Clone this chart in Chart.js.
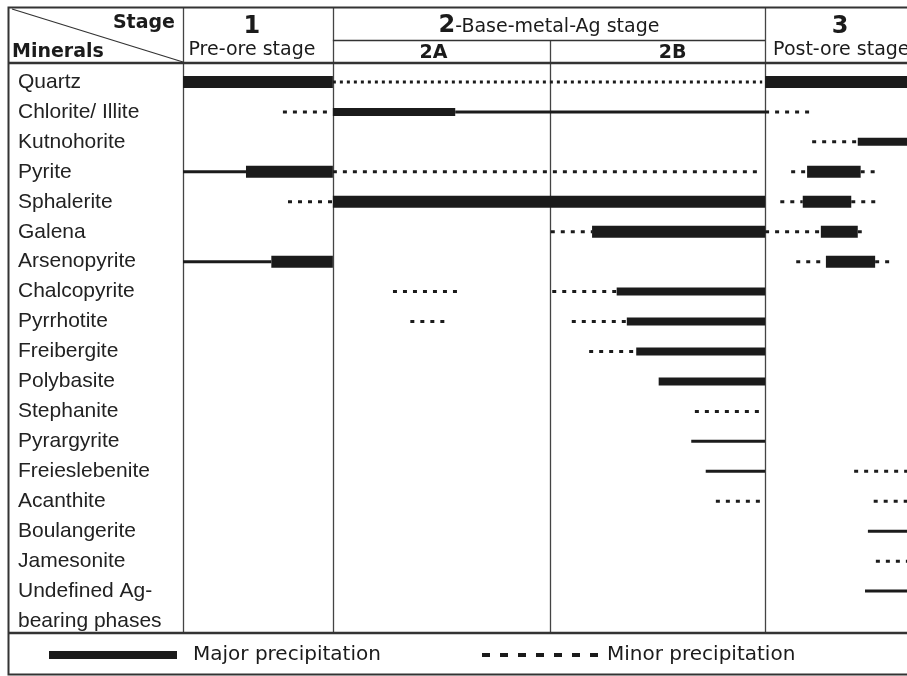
<!DOCTYPE html>
<html>
<head>
<meta charset="utf-8">
<script src="https://cdn.jsdelivr.net/npm/chart.js@4.4.0/dist/chart.umd.min.js"></script>
<style>
  html, body { margin: 0; padding: 0; background: #fff; }
  #wrap { width: 907px; height: 676px; }
</style>
</head>
<body>
<div id="wrap"><canvas id="chart"></canvas></div>
<script>
const minerals = ['Quartz', 'Chlorite/ Illite', 'Kutnohorite', 'Pyrite', 'Sphalerite', 'Galena',
  'Arsenopyrite', 'Chalcopyrite', 'Pyrrhotite', 'Freibergite', 'Polybasite', 'Stephanite',
  'Pyrargyrite', 'Freieslebenite', 'Acanthite', 'Boulangerite', 'Jamesonite',
  'Undefined Ag-bearing phases'];
// last name is written on two lines
const rowLabels = [...minerals.slice(0, -1), 'Undefined Ag-', 'bearing phases'];

// relative time, 0-100 across the visible part of the table
const stageBounds = [20.7, 50.7, 80.4]; // 1|2, 2A|2B, 2|3

const majorBars = [
  ['Quartz', 0, 20.7], ['Quartz', 80.4, 100],
  ['Pyrite', 8.7, 20.7], ['Pyrite', 86.2, 93.6],
  ['Sphalerite', 20.7, 80.4], ['Sphalerite', 85.6, 92.3],
  ['Galena', 56.5, 80.4], ['Galena', 88.1, 93.2],
  ['Arsenopyrite', 12.2, 20.7], ['Arsenopyrite', 88.8, 95.6]
];
const mediumBars = [
  ['Chlorite/ Illite', 20.7, 37.6],
  ['Kutnohorite', 93.2, 100],
  ['Chalcopyrite', 59.9, 80.4],
  ['Pyrrhotite', 61.3, 80.4],
  ['Freibergite', 62.6, 80.4],
  ['Polybasite', 65.7, 80.4]
];
const weakLines = [
  ['Chlorite/ Illite', 37.6, 80.4],
  ['Pyrite', 0, 8.7],
  ['Arsenopyrite', 0, 12.2],
  ['Pyrargyrite', 70.2, 80.4],
  ['Freieslebenite', 72.2, 80.4],
  ['Boulangerite', 94.6, 100],
  ['Undefined Ag-bearing phases', 94.2, 100]
];
const minorLines = [
  ['Chlorite/ Illite', 13.8, 20.7], ['Chlorite/ Illite', 80.4, 87.0],
  ['Kutnohorite', 86.9, 93.2],
  ['Pyrite', 20.7, 80.0], ['Pyrite', 84.0, 86.2], ['Pyrite', 93.6, 96.3],
  ['Sphalerite', 14.5, 20.7], ['Sphalerite', 82.5, 85.6], ['Sphalerite', 92.3, 96.3],
  ['Galena', 50.8, 56.5], ['Galena', 80.4, 88.1], ['Galena', 93.2, 94.3],
  ['Arsenopyrite', 84.7, 88.8], ['Arsenopyrite', 95.6, 98.2],
  ['Chalcopyrite', 29.0, 38.4], ['Chalcopyrite', 51.0, 59.9],
  ['Pyrrhotite', 31.4, 36.5], ['Pyrrhotite', 53.7, 61.3],
  ['Freibergite', 56.1, 62.6],
  ['Stephanite', 70.7, 80.0],
  ['Freieslebenite', 92.7, 100],
  ['Acanthite', 73.6, 80.0], ['Acanthite', 95.4, 100],
  ['Jamesonite', 95.7, 100]
];
const traceLines = [
  ['Quartz', 20.7, 80.0]
];

const INK = '#1b1b1b';
const styles = {
  major: { w: 12, dash: [] },
  medium: { w: 8, dash: [] },
  weak: { w: 3, dash: [] },
  minor: { w: 3, dash: [4, 6] },
  trace: { w: 3, dash: [3, 4] }
};

function toDatasets(list, type) {
  const st = styles[type];
  return list.map(([m, a, b]) => {
    const row = rowLabels[minerals.indexOf(m)];
    return {
      data: [{ x: a, y: row }, { x: b, y: row }],
      borderColor: INK,
      borderWidth: st.w,
      borderDash: st.dash,
      borderCapStyle: 'butt',
      pointRadius: 0,
      fill: false,
      tension: 0
    };
  });
}

const datasets = [
  ...toDatasets(weakLines, 'weak'),
  ...toDatasets(minorLines, 'minor'),
  ...toDatasets(traceLines, 'trace'),
  ...toDatasets(mediumBars, 'medium'),
  ...toDatasets(majorBars, 'major')
];

const HEAD = '"DejaVu Sans", sans-serif';

const tablePlugin = {
  id: 'table',
  beforeDatasetsDraw(chart) {
    const { ctx, chartArea, scales: { x } } = chart;
    ctx.save();
    ctx.strokeStyle = '#444';
    ctx.lineWidth = 1.3;
    const left = Math.round(chartArea.left) + 0.5;
    ctx.beginPath(); ctx.moveTo(left, 7); ctx.lineTo(left, 633); ctx.stroke();
    stageBounds.forEach((v, i) => {
      const px = Math.round(x.getPixelForValue(v)) + 0.5;
      ctx.beginPath(); ctx.moveTo(px, i === 1 ? 40 : 7); ctx.lineTo(px, 633); ctx.stroke();
    });
    ctx.restore();
  },
  afterDraw(chart) {
    const { ctx, chartArea, scales: { x } } = chart;
    const W = chart.width;
    const b1 = x.getPixelForValue(stageBounds[0]);
    const b2 = x.getPixelForValue(stageBounds[1]);
    const b3 = x.getPixelForValue(stageBounds[2]);
    ctx.save();
    ctx.strokeStyle = '#333';
    // outer frame
    ctx.lineWidth = 2;
    ctx.beginPath();
    ctx.moveTo(W, 7.5); ctx.lineTo(8.5, 7.5); ctx.lineTo(8.5, 674.5); ctx.lineTo(W, 674.5);
    ctx.stroke();
    // header bottom and legend top
    ctx.lineWidth = 2.5;
    ctx.beginPath(); ctx.moveTo(8, 63); ctx.lineTo(W, 63); ctx.stroke();
    ctx.beginPath(); ctx.moveTo(8, 633); ctx.lineTo(W, 633); ctx.stroke();
    // sub-header line and diagonal
    ctx.lineWidth = 1.3;
    ctx.beginPath(); ctx.moveTo(b1, 40.5); ctx.lineTo(b3, 40.5); ctx.stroke();
    ctx.beginPath(); ctx.moveTo(12, 9); ctx.lineTo(chartArea.left, 62); ctx.stroke();

    // header text
    ctx.fillStyle = INK;
    ctx.textBaseline = 'alphabetic';
    ctx.font = 'bold 19px ' + HEAD;
    ctx.textAlign = 'right'; ctx.fillText('Stage', 175, 28);
    ctx.textAlign = 'left'; ctx.fillText('Minerals', 12, 57);

    const c1 = (chartArea.left + b1) / 2 - 6;
    ctx.textAlign = 'center';
    ctx.font = 'bold 24px ' + HEAD; ctx.fillText('1', c1, 33);
    ctx.font = '19px ' + HEAD; ctx.fillText('Pre-ore stage', c1, 55);

    // "2-Base-metal-Ag stage" with a bold numeral
    const c2 = (b1 + b3) / 2;
    ctx.font = 'bold 24px ' + HEAD; const wNum = ctx.measureText('2').width;
    ctx.font = '19px ' + HEAD; const wRest = ctx.measureText('-Base-metal-Ag stage').width;
    const start = c2 - (wNum + wRest) / 2;
    ctx.textAlign = 'left';
    ctx.font = 'bold 24px ' + HEAD; ctx.fillText('2', start, 32);
    ctx.font = '19px ' + HEAD; ctx.fillText('-Base-metal-Ag stage', start + wNum, 32);

    ctx.textAlign = 'center';
    ctx.font = 'bold 19px ' + HEAD;
    ctx.fillText('2A', (b1 + b2) / 2 - 8, 58);
    ctx.fillText('2B', (b2 + b3) / 2 + 15, 58);

    ctx.font = 'bold 24px ' + HEAD; ctx.fillText('3', b3 + 75, 33);
    ctx.textAlign = 'left';
    ctx.font = '19px ' + HEAD; ctx.fillText('Post-ore stage', b3 + 8, 55);

    // legend
    ctx.strokeStyle = INK;
    ctx.lineCap = 'butt';
    ctx.lineWidth = 8;
    ctx.beginPath(); ctx.moveTo(49, 655); ctx.lineTo(177, 655); ctx.stroke();
    ctx.lineWidth = 4;
    ctx.setLineDash([8, 10]);
    ctx.beginPath(); ctx.moveTo(482, 655); ctx.lineTo(598, 655); ctx.stroke();
    ctx.setLineDash([]);
    ctx.font = '20px ' + HEAD;
    ctx.textBaseline = 'middle';
    ctx.fillText('Major precipitation', 193, 655);
    ctx.fillText('Minor precipitation', 607, 655);
    ctx.restore();
  }
};

new Chart(document.getElementById('chart'), {
  type: 'line',
  data: { datasets: datasets },
  options: {
    responsive: true,
    maintainAspectRatio: false,
    animation: false,
    layout: { padding: { left: 18, right: 0, top: 67, bottom: 40 } },
    plugins: { legend: { display: false }, tooltip: { enabled: false } },
    scales: {
      x: { type: 'linear', min: 0, max: 100, display: false },
      y: {
        type: 'category',
        labels: rowLabels,
        offset: true,
        grid: { display: false },
        border: { display: false },
        afterFit: (scale) => { scale.width = 165; },
        ticks: {
          autoSkip: false,
          crossAlign: 'far',
          padding: 0,
          color: '#222',
          font: { family: '"Liberation Sans", Arial, sans-serif', size: 21 }
        }
      }
    }
  },
  plugins: [tablePlugin]
});
</script>
</body>
</html>
